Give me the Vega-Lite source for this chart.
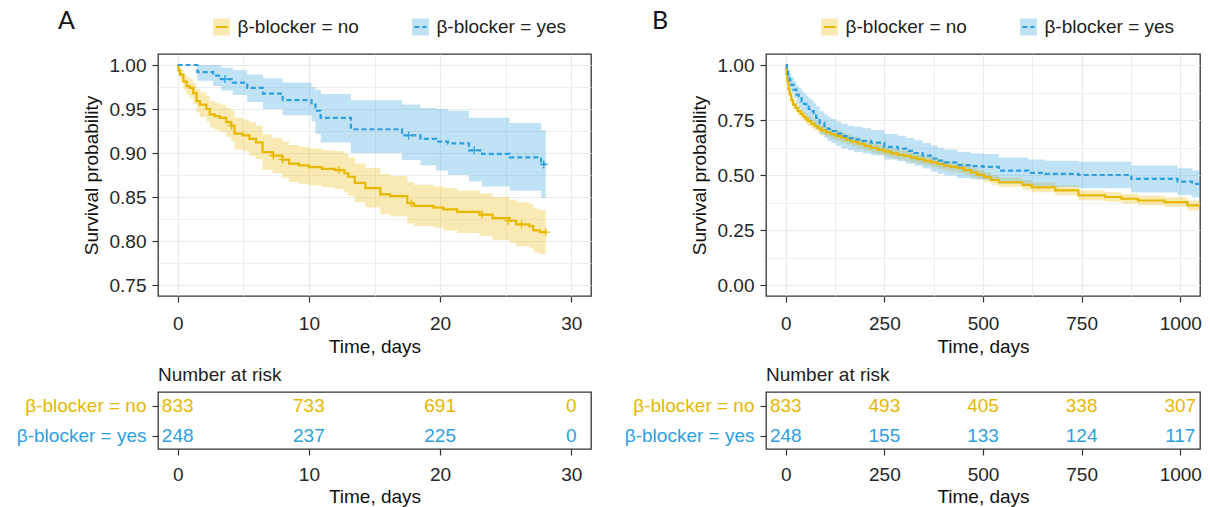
{
  "$schema": "https://vega.github.io/schema/vega-lite/v6.json",
  "background": "white",
  "padding": {"left": 15, "top": 9, "right": 0, "bottom": 0},
  "config": {
    "font": "Liberation Sans",
    "view": {"stroke": "#333333", "strokeWidth": 1.3},
    "axis": {"labelFontSize": 19, "labelColor": "#262626", "titleFontSize": 19, "titleFontWeight": "normal", "titleColor": "#111111", "tickColor": "#333333", "tickSize": 6, "tickWidth": 1.2, "domain": false, "gridColor": "#EBEBEB", "gridWidth": 1.2, "labelPadding": 6, "titlePadding": 8},
    "title": {"fontWeight": "normal"}
  },
  "datasets": {
    "legend": [{"g": "β-blocker = no"}, {"g": "β-blocker = yes"}],
    "kmA": [
      {"g": "β-blocker = no", "t": 0, "s": 1, "lo": 1, "hi": 1},
      {"g": "β-blocker = no", "t": 0.05, "s": 0.994, "lo": 0.988, "hi": 0.999},
      {"g": "β-blocker = no", "t": 0.18, "s": 0.989, "lo": 0.981, "hi": 0.996},
      {"g": "β-blocker = no", "t": 0.43, "s": 0.981, "lo": 0.972, "hi": 0.99},
      {"g": "β-blocker = no", "t": 0.68, "s": 0.976, "lo": 0.966, "hi": 0.986},
      {"g": "β-blocker = no", "t": 0.93, "s": 0.974, "lo": 0.963, "hi": 0.984},
      {"g": "β-blocker = no", "t": 1.18, "s": 0.968, "lo": 0.956, "hi": 0.979},
      {"g": "β-blocker = no", "t": 1.44, "s": 0.959, "lo": 0.946, "hi": 0.973},
      {"g": "β-blocker = no", "t": 1.69, "s": 0.955, "lo": 0.941, "hi": 0.969},
      {"g": "β-blocker = no", "t": 2.19, "s": 0.95, "lo": 0.936, "hi": 0.965},
      {"g": "β-blocker = no", "t": 2.44, "s": 0.944, "lo": 0.929, "hi": 0.959},
      {"g": "β-blocker = no", "t": 2.82, "s": 0.942, "lo": 0.926, "hi": 0.957},
      {"g": "β-blocker = no", "t": 3.2, "s": 0.94, "lo": 0.924, "hi": 0.955},
      {"g": "β-blocker = no", "t": 3.7, "s": 0.935, "lo": 0.918, "hi": 0.951},
      {"g": "β-blocker = no", "t": 4.08, "s": 0.931, "lo": 0.913, "hi": 0.948},
      {"g": "β-blocker = no", "t": 4.33, "s": 0.922, "lo": 0.904, "hi": 0.94},
      {"g": "β-blocker = no", "t": 4.96, "s": 0.92, "lo": 0.902, "hi": 0.938},
      {"g": "β-blocker = no", "t": 5.47, "s": 0.916, "lo": 0.897, "hi": 0.935},
      {"g": "β-blocker = no", "t": 5.97, "s": 0.912, "lo": 0.893, "hi": 0.931},
      {"g": "β-blocker = no", "t": 6.47, "s": 0.901, "lo": 0.881, "hi": 0.921},
      {"g": "β-blocker = no", "t": 7.23, "s": 0.897, "lo": 0.877, "hi": 0.917},
      {"g": "β-blocker = no", "t": 7.98, "s": 0.8925, "lo": 0.872, "hi": 0.913},
      {"g": "β-blocker = no", "t": 8.49, "s": 0.888, "lo": 0.867, "hi": 0.909},
      {"g": "β-blocker = no", "t": 9.24, "s": 0.886, "lo": 0.865, "hi": 0.907},
      {"g": "β-blocker = no", "t": 10.0, "s": 0.884, "lo": 0.863, "hi": 0.905},
      {"g": "β-blocker = no", "t": 11.0, "s": 0.882, "lo": 0.861, "hi": 0.903},
      {"g": "β-blocker = no", "t": 12.0, "s": 0.8806, "lo": 0.859, "hi": 0.902},
      {"g": "β-blocker = no", "t": 12.7, "s": 0.877, "lo": 0.855, "hi": 0.899},
      {"g": "β-blocker = no", "t": 13.0, "s": 0.873, "lo": 0.851, "hi": 0.895},
      {"g": "β-blocker = no", "t": 13.5, "s": 0.866, "lo": 0.844, "hi": 0.888},
      {"g": "β-blocker = no", "t": 14.3, "s": 0.86, "lo": 0.838, "hi": 0.883},
      {"g": "β-blocker = no", "t": 15.44, "s": 0.853, "lo": 0.83, "hi": 0.876},
      {"g": "β-blocker = no", "t": 16.2, "s": 0.851, "lo": 0.828, "hi": 0.874},
      {"g": "β-blocker = no", "t": 17.5, "s": 0.843, "lo": 0.82, "hi": 0.867},
      {"g": "β-blocker = no", "t": 18.0, "s": 0.84, "lo": 0.817, "hi": 0.864},
      {"g": "β-blocker = no", "t": 19.5, "s": 0.838, "lo": 0.815, "hi": 0.862},
      {"g": "β-blocker = no", "t": 20.25, "s": 0.836, "lo": 0.812, "hi": 0.86},
      {"g": "β-blocker = no", "t": 21.3, "s": 0.833, "lo": 0.809, "hi": 0.857},
      {"g": "β-blocker = no", "t": 23.0, "s": 0.83, "lo": 0.806, "hi": 0.854},
      {"g": "β-blocker = no", "t": 24.0, "s": 0.826, "lo": 0.801, "hi": 0.85},
      {"g": "β-blocker = no", "t": 25.3, "s": 0.823, "lo": 0.798, "hi": 0.847},
      {"g": "β-blocker = no", "t": 25.8, "s": 0.819, "lo": 0.794, "hi": 0.844},
      {"g": "β-blocker = no", "t": 26.8, "s": 0.817, "lo": 0.792, "hi": 0.842},
      {"g": "β-blocker = no", "t": 27.1, "s": 0.812, "lo": 0.787, "hi": 0.837},
      {"g": "β-blocker = no", "t": 27.6, "s": 0.81, "lo": 0.785, "hi": 0.835},
      {"g": "β-blocker = no", "t": 28.05, "s": 0.81, "lo": 0.785, "hi": 0.835},
      {"g": "β-blocker = yes", "t": 0, "s": 1, "lo": 1, "hi": 1},
      {"g": "β-blocker = yes", "t": 1.5, "s": 0.992, "lo": 0.982, "hi": 1.0},
      {"g": "β-blocker = yes", "t": 2.7, "s": 0.988, "lo": 0.976, "hi": 1.0},
      {"g": "β-blocker = yes", "t": 3.3, "s": 0.984, "lo": 0.971, "hi": 0.997},
      {"g": "β-blocker = yes", "t": 4.2, "s": 0.98, "lo": 0.966, "hi": 0.994},
      {"g": "β-blocker = yes", "t": 5.3, "s": 0.974, "lo": 0.958, "hi": 0.989},
      {"g": "β-blocker = yes", "t": 6.5, "s": 0.9675, "lo": 0.95, "hi": 0.985},
      {"g": "β-blocker = yes", "t": 8.0, "s": 0.96, "lo": 0.943, "hi": 0.98},
      {"g": "β-blocker = yes", "t": 10.2, "s": 0.955, "lo": 0.936, "hi": 0.975},
      {"g": "β-blocker = yes", "t": 10.5, "s": 0.948, "lo": 0.922, "hi": 0.972},
      {"g": "β-blocker = yes", "t": 10.9, "s": 0.94, "lo": 0.912, "hi": 0.967},
      {"g": "β-blocker = yes", "t": 13.2, "s": 0.927, "lo": 0.9, "hi": 0.96},
      {"g": "β-blocker = yes", "t": 17.1, "s": 0.92, "lo": 0.892, "hi": 0.955},
      {"g": "β-blocker = yes", "t": 18.5, "s": 0.916, "lo": 0.886, "hi": 0.951},
      {"g": "β-blocker = yes", "t": 19.7, "s": 0.913, "lo": 0.88, "hi": 0.95},
      {"g": "β-blocker = yes", "t": 20.6, "s": 0.911, "lo": 0.875, "hi": 0.948},
      {"g": "β-blocker = yes", "t": 22.2, "s": 0.903, "lo": 0.868, "hi": 0.94},
      {"g": "β-blocker = yes", "t": 23.2, "s": 0.899, "lo": 0.862, "hi": 0.94},
      {"g": "β-blocker = yes", "t": 25.3, "s": 0.895, "lo": 0.857, "hi": 0.934},
      {"g": "β-blocker = yes", "t": 27.7, "s": 0.887, "lo": 0.849, "hi": 0.926},
      {"g": "β-blocker = yes", "t": 28.05, "s": 0.887, "lo": 0.849, "hi": 0.926}
    ],
    "censA": [
      {"g": "β-blocker = no", "t": 4.1, "s": 0.931},
      {"g": "β-blocker = no", "t": 7.3, "s": 0.897},
      {"g": "β-blocker = no", "t": 8.0, "s": 0.8925},
      {"g": "β-blocker = no", "t": 12.3, "s": 0.8806},
      {"g": "β-blocker = no", "t": 17.8, "s": 0.843},
      {"g": "β-blocker = no", "t": 23.2, "s": 0.83},
      {"g": "β-blocker = no", "t": 25.2, "s": 0.823},
      {"g": "β-blocker = no", "t": 26.2, "s": 0.819},
      {"g": "β-blocker = no", "t": 28.05, "s": 0.81},
      {"g": "β-blocker = yes", "t": 3.6, "s": 0.984},
      {"g": "β-blocker = yes", "t": 17.6, "s": 0.92},
      {"g": "β-blocker = yes", "t": 22.6, "s": 0.903},
      {"g": "β-blocker = yes", "t": 27.9, "s": 0.887}
    ],
    "kmB": [
      {"g": "β-blocker = no", "t": 0, "s": 1, "lo": 1, "hi": 1},
      {"g": "β-blocker = no", "t": 2, "s": 0.96, "lo": 0.951, "hi": 0.969},
      {"g": "β-blocker = no", "t": 4, "s": 0.925, "lo": 0.912, "hi": 0.938},
      {"g": "β-blocker = no", "t": 7, "s": 0.89, "lo": 0.874, "hi": 0.906},
      {"g": "β-blocker = no", "t": 10, "s": 0.865, "lo": 0.848, "hi": 0.882},
      {"g": "β-blocker = no", "t": 14, "s": 0.84, "lo": 0.822, "hi": 0.858},
      {"g": "β-blocker = no", "t": 18.5, "s": 0.82, "lo": 0.801, "hi": 0.839},
      {"g": "β-blocker = no", "t": 25, "s": 0.805, "lo": 0.785, "hi": 0.825},
      {"g": "β-blocker = no", "t": 31, "s": 0.79, "lo": 0.769, "hi": 0.811},
      {"g": "β-blocker = no", "t": 38, "s": 0.778, "lo": 0.757, "hi": 0.799},
      {"g": "β-blocker = no", "t": 44, "s": 0.767, "lo": 0.745, "hi": 0.789},
      {"g": "β-blocker = no", "t": 50, "s": 0.756, "lo": 0.734, "hi": 0.778},
      {"g": "β-blocker = no", "t": 56, "s": 0.745, "lo": 0.723, "hi": 0.767},
      {"g": "β-blocker = no", "t": 65, "s": 0.733, "lo": 0.711, "hi": 0.755},
      {"g": "β-blocker = no", "t": 73, "s": 0.722, "lo": 0.7, "hi": 0.744},
      {"g": "β-blocker = no", "t": 82, "s": 0.712, "lo": 0.69, "hi": 0.734},
      {"g": "β-blocker = no", "t": 90, "s": 0.703, "lo": 0.681, "hi": 0.725},
      {"g": "β-blocker = no", "t": 102, "s": 0.694, "lo": 0.672, "hi": 0.716},
      {"g": "β-blocker = no", "t": 115, "s": 0.685, "lo": 0.663, "hi": 0.707},
      {"g": "β-blocker = no", "t": 128, "s": 0.677, "lo": 0.655, "hi": 0.699},
      {"g": "β-blocker = no", "t": 141, "s": 0.67, "lo": 0.648, "hi": 0.692},
      {"g": "β-blocker = no", "t": 153, "s": 0.661, "lo": 0.639, "hi": 0.683},
      {"g": "β-blocker = no", "t": 166, "s": 0.652, "lo": 0.63, "hi": 0.674},
      {"g": "β-blocker = no", "t": 183, "s": 0.642, "lo": 0.62, "hi": 0.664},
      {"g": "β-blocker = no", "t": 200, "s": 0.632, "lo": 0.61, "hi": 0.654},
      {"g": "β-blocker = no", "t": 216, "s": 0.623, "lo": 0.601, "hi": 0.645},
      {"g": "β-blocker = no", "t": 233, "s": 0.614, "lo": 0.592, "hi": 0.636},
      {"g": "β-blocker = no", "t": 250, "s": 0.606, "lo": 0.584, "hi": 0.628},
      {"g": "β-blocker = no", "t": 267, "s": 0.598, "lo": 0.576, "hi": 0.62},
      {"g": "β-blocker = no", "t": 283, "s": 0.592, "lo": 0.57, "hi": 0.614},
      {"g": "β-blocker = no", "t": 300, "s": 0.587, "lo": 0.565, "hi": 0.609},
      {"g": "β-blocker = no", "t": 317, "s": 0.579, "lo": 0.557, "hi": 0.601},
      {"g": "β-blocker = no", "t": 334, "s": 0.572, "lo": 0.55, "hi": 0.594},
      {"g": "β-blocker = no", "t": 351, "s": 0.564, "lo": 0.542, "hi": 0.586},
      {"g": "β-blocker = no", "t": 368, "s": 0.557, "lo": 0.535, "hi": 0.579},
      {"g": "β-blocker = no", "t": 385, "s": 0.549, "lo": 0.527, "hi": 0.571},
      {"g": "β-blocker = no", "t": 402, "s": 0.542, "lo": 0.52, "hi": 0.564},
      {"g": "β-blocker = no", "t": 418, "s": 0.537, "lo": 0.515, "hi": 0.559},
      {"g": "β-blocker = no", "t": 435, "s": 0.532, "lo": 0.51, "hi": 0.554},
      {"g": "β-blocker = no", "t": 452, "s": 0.522, "lo": 0.5, "hi": 0.544},
      {"g": "β-blocker = no", "t": 469, "s": 0.512, "lo": 0.49, "hi": 0.534},
      {"g": "β-blocker = no", "t": 486, "s": 0.501, "lo": 0.479, "hi": 0.523},
      {"g": "β-blocker = no", "t": 503, "s": 0.49, "lo": 0.468, "hi": 0.512},
      {"g": "β-blocker = no", "t": 520, "s": 0.478, "lo": 0.456, "hi": 0.5},
      {"g": "β-blocker = no", "t": 540, "s": 0.467, "lo": 0.445, "hi": 0.489},
      {"g": "β-blocker = no", "t": 600, "s": 0.455, "lo": 0.433, "hi": 0.477},
      {"g": "β-blocker = no", "t": 624, "s": 0.444, "lo": 0.422, "hi": 0.466},
      {"g": "β-blocker = no", "t": 683, "s": 0.43, "lo": 0.408, "hi": 0.452},
      {"g": "β-blocker = no", "t": 742, "s": 0.407, "lo": 0.385, "hi": 0.429},
      {"g": "β-blocker = no", "t": 809, "s": 0.4, "lo": 0.378, "hi": 0.422},
      {"g": "β-blocker = no", "t": 851, "s": 0.392, "lo": 0.37, "hi": 0.414},
      {"g": "β-blocker = no", "t": 893, "s": 0.384, "lo": 0.362, "hi": 0.406},
      {"g": "β-blocker = no", "t": 960, "s": 0.377, "lo": 0.355, "hi": 0.399},
      {"g": "β-blocker = no", "t": 1018, "s": 0.362, "lo": 0.34, "hi": 0.384},
      {"g": "β-blocker = no", "t": 1060, "s": 0.36, "lo": 0.338, "hi": 0.382},
      {"g": "β-blocker = yes", "t": 0, "s": 1, "lo": 1, "hi": 1},
      {"g": "β-blocker = yes", "t": 3, "s": 0.97, "lo": 0.949, "hi": 0.991},
      {"g": "β-blocker = yes", "t": 6, "s": 0.955, "lo": 0.929, "hi": 0.981},
      {"g": "β-blocker = yes", "t": 10, "s": 0.93, "lo": 0.898, "hi": 0.962},
      {"g": "β-blocker = yes", "t": 14, "s": 0.91, "lo": 0.875, "hi": 0.945},
      {"g": "β-blocker = yes", "t": 20, "s": 0.888, "lo": 0.849, "hi": 0.927},
      {"g": "β-blocker = yes", "t": 27, "s": 0.865, "lo": 0.823, "hi": 0.907},
      {"g": "β-blocker = yes", "t": 33, "s": 0.85, "lo": 0.806, "hi": 0.894},
      {"g": "β-blocker = yes", "t": 40, "s": 0.835, "lo": 0.789, "hi": 0.881},
      {"g": "β-blocker = yes", "t": 46, "s": 0.823, "lo": 0.776, "hi": 0.87},
      {"g": "β-blocker = yes", "t": 52, "s": 0.812, "lo": 0.764, "hi": 0.86},
      {"g": "β-blocker = yes", "t": 58, "s": 0.8, "lo": 0.751, "hi": 0.849},
      {"g": "β-blocker = yes", "t": 65, "s": 0.79, "lo": 0.74, "hi": 0.84},
      {"g": "β-blocker = yes", "t": 71, "s": 0.775, "lo": 0.724, "hi": 0.826},
      {"g": "β-blocker = yes", "t": 77, "s": 0.76, "lo": 0.708, "hi": 0.812},
      {"g": "β-blocker = yes", "t": 86, "s": 0.737, "lo": 0.684, "hi": 0.79},
      {"g": "β-blocker = yes", "t": 98, "s": 0.722, "lo": 0.668, "hi": 0.776},
      {"g": "β-blocker = yes", "t": 106, "s": 0.71, "lo": 0.655, "hi": 0.765},
      {"g": "β-blocker = yes", "t": 115, "s": 0.7, "lo": 0.645, "hi": 0.755},
      {"g": "β-blocker = yes", "t": 128, "s": 0.688, "lo": 0.633, "hi": 0.743},
      {"g": "β-blocker = yes", "t": 141, "s": 0.677, "lo": 0.621, "hi": 0.733},
      {"g": "β-blocker = yes", "t": 158, "s": 0.668, "lo": 0.612, "hi": 0.724},
      {"g": "β-blocker = yes", "t": 174, "s": 0.662, "lo": 0.605, "hi": 0.719},
      {"g": "β-blocker = yes", "t": 195, "s": 0.655, "lo": 0.598, "hi": 0.712},
      {"g": "β-blocker = yes", "t": 216, "s": 0.647, "lo": 0.59, "hi": 0.704},
      {"g": "β-blocker = yes", "t": 250, "s": 0.628, "lo": 0.57, "hi": 0.686},
      {"g": "β-blocker = yes", "t": 284, "s": 0.62, "lo": 0.562, "hi": 0.678},
      {"g": "β-blocker = yes", "t": 305, "s": 0.61, "lo": 0.552, "hi": 0.668},
      {"g": "β-blocker = yes", "t": 326, "s": 0.6, "lo": 0.542, "hi": 0.658},
      {"g": "β-blocker = yes", "t": 347, "s": 0.588, "lo": 0.53, "hi": 0.646},
      {"g": "β-blocker = yes", "t": 368, "s": 0.575, "lo": 0.516, "hi": 0.634},
      {"g": "β-blocker = yes", "t": 385, "s": 0.565, "lo": 0.506, "hi": 0.624},
      {"g": "β-blocker = yes", "t": 402, "s": 0.557, "lo": 0.498, "hi": 0.616},
      {"g": "β-blocker = yes", "t": 435, "s": 0.545, "lo": 0.486, "hi": 0.604},
      {"g": "β-blocker = yes", "t": 469, "s": 0.54, "lo": 0.481, "hi": 0.599},
      {"g": "β-blocker = yes", "t": 500, "s": 0.537, "lo": 0.478, "hi": 0.596},
      {"g": "β-blocker = yes", "t": 540, "s": 0.52, "lo": 0.46, "hi": 0.58},
      {"g": "β-blocker = yes", "t": 615, "s": 0.51, "lo": 0.45, "hi": 0.57},
      {"g": "β-blocker = yes", "t": 658, "s": 0.505, "lo": 0.445, "hi": 0.565},
      {"g": "β-blocker = yes", "t": 742, "s": 0.5, "lo": 0.44, "hi": 0.56},
      {"g": "β-blocker = yes", "t": 876, "s": 0.482, "lo": 0.421, "hi": 0.543},
      {"g": "β-blocker = yes", "t": 993, "s": 0.47, "lo": 0.409, "hi": 0.531},
      {"g": "β-blocker = yes", "t": 1030, "s": 0.46, "lo": 0.399, "hi": 0.521},
      {"g": "β-blocker = yes", "t": 1060, "s": 0.46, "lo": 0.399, "hi": 0.521}
    ],
    "riskA": [
      {"g": "β-blocker = no", "t": 0, "n": 833},
      {"g": "β-blocker = no", "t": 10, "n": 733},
      {"g": "β-blocker = no", "t": 20, "n": 691},
      {"g": "β-blocker = no", "t": 30, "n": 0},
      {"g": "β-blocker = yes", "t": 0, "n": 248},
      {"g": "β-blocker = yes", "t": 10, "n": 237},
      {"g": "β-blocker = yes", "t": 20, "n": 225},
      {"g": "β-blocker = yes", "t": 30, "n": 0}
    ],
    "riskB": [
      {"g": "β-blocker = no", "t": 0, "n": 833},
      {"g": "β-blocker = no", "t": 250, "n": 493},
      {"g": "β-blocker = no", "t": 500, "n": 405},
      {"g": "β-blocker = no", "t": 750, "n": 338},
      {"g": "β-blocker = no", "t": 1000, "n": 307},
      {"g": "β-blocker = yes", "t": 0, "n": 248},
      {"g": "β-blocker = yes", "t": 250, "n": 155},
      {"g": "β-blocker = yes", "t": 500, "n": 133},
      {"g": "β-blocker = yes", "t": 750, "n": 124},
      {"g": "β-blocker = yes", "t": 1000, "n": 117}
    ]
  },
  "spacing": 31,
  "hconcat": [
    {
      "spacing": 8,
      "vconcat": [
        {
          "width": 326, "height": 36,
          "view": {"stroke": null},
          "title": {"text": "A", "anchor": "start", "frame": "group", "dx": -100, "dy": 29, "fontSize": 25, "font": "Lato", "color": "#111111"},
          "data": {"name": "legend"},
          "encoding": {
            "x": {"field": "g", "type": "nominal", "scale": {"type": "point", "padding": 0.32}, "axis": null},
            "color": {"field": "g", "type": "nominal", "scale": {"domain": ["β-blocker = no", "β-blocker = yes"], "range": ["#E7B800", "#2E9FDF"]}, "legend": null}
          },
          "layer": [
            {"mark": {"type": "point", "shape": "square", "size": 289, "filled": true, "opacity": 0.3}},
            {"mark": {"type": "point", "shape": "stroke", "size": 144, "filled": false, "strokeWidth": 2.2, "opacity": 1},
             "encoding": {"strokeDash": {"field": "g", "type": "nominal", "scale": {"domain": ["β-blocker = no", "β-blocker = yes"], "range": [[1, 0], [5, 3]]}, "legend": null}}},
            {"mark": {"type": "text", "align": "left", "baseline": "middle", "dx": 16, "fontSize": 19, "color": "#222222"},
             "encoding": {"text": {"field": "g"}, "color": {"value": "#222222"}}}
          ]
        },
        {
          "width": 433, "height": 242,
          "resolve": {"axis": {"x": "independent", "y": "independent"}},
          "layer": [
            {
              "data": {"name": "kmA"},
              "mark": {"type": "area", "interpolate": "step-after", "opacity": 0.3, "clip": true},
              "encoding": {
                "x": {"field": "t", "type": "quantitative", "scale": {"domain": [-1.5, 31.5], "nice": false, "zero": false},
                      "axis": {"orient": "bottom", "values": [5, 15, 25], "grid": true, "gridWidth": 0.8, "labels": false, "ticks": false, "title": null}},
                "y": {"field": "lo", "type": "quantitative", "scale": {"domain": [0.7375, 1.0125], "nice": false, "zero": false},
                      "axis": {"orient": "left", "values": [0.775, 0.825, 0.875, 0.925, 0.975], "grid": true, "gridWidth": 0.8, "labels": false, "ticks": false, "title": null}},
                "y2": {"field": "hi"},
                "color": {"field": "g", "type": "nominal", "scale": {"domain": ["β-blocker = no", "β-blocker = yes"], "range": ["#E7B800", "#2E9FDF"]}, "legend": null}
              }
            },
            {
              "data": {"name": "kmA"},
              "mark": {"type": "line", "interpolate": "step-after", "strokeWidth": 2.2, "clip": true},
              "encoding": {
                "x": {"field": "t", "type": "quantitative", "axis": {"orient": "bottom", "values": [0, 10, 20, 30], "grid": true, "title": "Time, days", "labelPadding": 12, "titlePadding": 4}},
                "y": {"field": "s", "type": "quantitative", "axis": {"orient": "left", "values": [0.75, 0.8, 0.85, 0.9, 0.95, 1.0], "format": ".2f", "grid": true, "title": "Survival probability"}},
                "color": {"field": "g", "type": "nominal", "legend": null},
                "strokeDash": {"field": "g", "type": "nominal", "scale": {"domain": ["β-blocker = no", "β-blocker = yes"], "range": [[1, 0], [5, 3]]}, "legend": null}
              }
            },
            {
              "data": {"name": "censA"},
              "mark": {"type": "point", "shape": "M-1,0L1,0M0,-1L0,1", "size": 64, "filled": false, "strokeWidth": 1.3, "opacity": 1},
              "encoding": {
                "x": {"field": "t", "type": "quantitative", "axis": null},
                "y": {"field": "s", "type": "quantitative", "axis": null},
                "color": {"field": "g", "type": "nominal", "legend": null}
              }
            }
          ]
        },
        {
          "width": 433, "height": 57,
          "title": {"text": "Number at risk", "anchor": "start", "frame": "group", "fontSize": 19, "color": "#222222", "offset": 7},
          "data": {"name": "riskA"},
          "mark": {"type": "text", "fontSize": 19, "baseline": "middle"},
          "encoding": {
            "x": {"field": "t", "type": "quantitative", "scale": {"domain": [-1.5, 31.5], "nice": false, "zero": false},
                  "axis": {"values": [0, 10, 20, 30], "grid": false, "title": "Time, days", "labelPadding": 10, "titlePadding": 3}},
            "y": {"field": "g", "type": "nominal", "scale": {"type": "point", "padding": 0.45, "domain": ["β-blocker = no", "β-blocker = yes"]},
                  "axis": {"title": null, "grid": false, "labelColor": {"condition": {"test": "datum.value == 'β-blocker = no'", "value": "#E7B800"}, "value": "#2E9FDF"}}},
            "text": {"field": "n"},
            "color": {"field": "g", "type": "nominal", "legend": null}
          }
        }
      ]
    },
    {
      "spacing": 8,
      "vconcat": [
        {
          "width": 326, "height": 36,
          "view": {"stroke": null},
          "title": {"text": "B", "anchor": "start", "frame": "group", "dx": -114, "dy": 29, "fontSize": 25, "font": "Lato", "color": "#111111"},
          "data": {"name": "legend"},
          "encoding": {
            "x": {"field": "g", "type": "nominal", "scale": {"type": "point", "padding": 0.32}, "axis": null},
            "color": {"field": "g", "type": "nominal", "legend": null}
          },
          "layer": [
            {"mark": {"type": "point", "shape": "square", "size": 289, "filled": true, "opacity": 0.3}},
            {"mark": {"type": "point", "shape": "stroke", "size": 144, "filled": false, "strokeWidth": 2.2, "opacity": 1},
             "encoding": {"strokeDash": {"field": "g", "type": "nominal", "legend": null}}},
            {"mark": {"type": "text", "align": "left", "baseline": "middle", "dx": 16, "fontSize": 19, "color": "#222222"},
             "encoding": {"text": {"field": "g"}, "color": {"value": "#222222"}}}
          ]
        },
        {
          "width": 434, "height": 242,
          "resolve": {"axis": {"x": "independent", "y": "independent"}},
          "layer": [
            {
              "data": {"name": "kmB"},
              "mark": {"type": "area", "interpolate": "step-after", "opacity": 0.3, "clip": true},
              "encoding": {
                "x": {"field": "t", "type": "quantitative", "scale": {"domain": [-50, 1050], "nice": false, "zero": false},
                      "axis": {"orient": "bottom", "values": [125, 375, 625, 875], "grid": true, "gridWidth": 0.8, "labels": false, "ticks": false, "title": null}},
                "y": {"field": "lo", "type": "quantitative", "scale": {"domain": [-0.05, 1.05], "nice": false, "zero": false},
                      "axis": {"orient": "left", "values": [0.125, 0.375, 0.625, 0.875], "grid": true, "gridWidth": 0.8, "labels": false, "ticks": false, "title": null}},
                "y2": {"field": "hi"},
                "color": {"field": "g", "type": "nominal", "legend": null}
              }
            },
            {
              "data": {"name": "kmB"},
              "mark": {"type": "line", "interpolate": "step-after", "strokeWidth": 2.2, "clip": true},
              "encoding": {
                "x": {"field": "t", "type": "quantitative", "axis": {"orient": "bottom", "values": [0, 250, 500, 750, 1000], "format": "d", "grid": true, "title": "Time, days", "labelPadding": 12, "titlePadding": 4}},
                "y": {"field": "s", "type": "quantitative", "axis": {"orient": "left", "values": [0, 0.25, 0.5, 0.75, 1.0], "format": ".2f", "grid": true, "title": "Survival probability"}},
                "color": {"field": "g", "type": "nominal", "legend": null},
                "strokeDash": {"field": "g", "type": "nominal", "legend": null}
              }
            }
          ]
        },
        {
          "width": 434, "height": 57,
          "title": {"text": "Number at risk", "anchor": "start", "frame": "group", "fontSize": 19, "color": "#222222", "offset": 7},
          "data": {"name": "riskB"},
          "mark": {"type": "text", "fontSize": 19, "baseline": "middle"},
          "encoding": {
            "x": {"field": "t", "type": "quantitative", "scale": {"domain": [-50, 1050], "nice": false, "zero": false},
                  "axis": {"values": [0, 250, 500, 750, 1000], "format": "d", "grid": false, "title": "Time, days", "labelPadding": 10, "titlePadding": 3}},
            "y": {"field": "g", "type": "nominal", "scale": {"type": "point", "padding": 0.45, "domain": ["β-blocker = no", "β-blocker = yes"]},
                  "axis": {"title": null, "grid": false, "labelColor": {"condition": {"test": "datum.value == 'β-blocker = no'", "value": "#E7B800"}, "value": "#2E9FDF"}}},
            "text": {"field": "n"},
            "color": {"field": "g", "type": "nominal", "legend": null}
          }
        }
      ]
    }
  ]
}
